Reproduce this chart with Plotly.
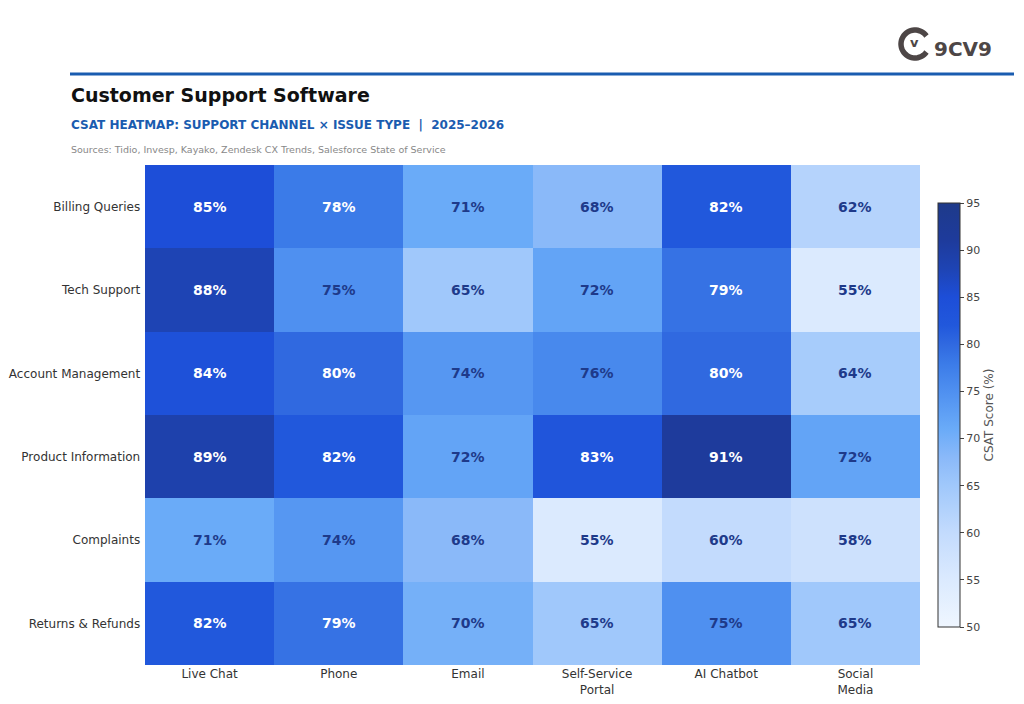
import math
import plotly.graph_objects as go

channels = ["Live Chat", "Phone", "Email", "Self-Service<br>Portal", "AI Chatbot", "Social<br>Media"]
issues = ["Billing Queries", "Tech Support", "Account Management", "Product Information", "Complaints", "Returns & Refunds"]
billing = [85, 78, 71, 68, 82, 62]
tech = [88, 75, 65, 72, 79, 55]
account = [84, 80, 74, 76, 80, 64]
product = [89, 82, 72, 83, 91, 72]
complaints = [71, 74, 68, 55, 60, 58]
returns = [82, 79, 70, 65, 75, 65]
z = [billing, tech, account, product, complaints, returns]
cb_ticks = [50, 55, 60, 65, 70, 75, 80, 85, 90, 95]

zmin, zmax = 50, 95
stops = [(50, "#eff6ff"), (55, "#dbeafe"), (60, "#c3dbfd"), (65, "#a0c8fb"), (68, "#8ab9f9"),
         (71, "#6aabf8"), (75, "#4f90f0"), (78, "#3b7be8"), (80, "#3069e0"), (82, "#2158dc"),
         (85, "#1d4ed8"), (88, "#1e44b4"), (91, "#1e3b9c"), (95, "#1e3a8a")]
colorscale = [[(v - zmin) / (zmax - zmin), c] for v, c in stops]

FONT = "DejaVu Sans"
L, R, T, B = 145, 104, 165, 39
PW, PH = 1024 - L - R, 704 - T - B

def px(x):
    return (x - L) / PW

def py(y):
    return 1 - (y - T) / PH

fig = go.Figure()
fig.add_trace(go.Heatmap(
    z=z, x=channels, y=issues, zmin=zmin, zmax=zmax, colorscale=colorscale,
    hoverinfo="skip",
    colorbar=dict(
        x=px(938), xanchor="left", xpad=0, y=py(415), yanchor="middle", ypad=0,
        lenmode="pixels", len=424, thickness=22, thicknessmode="pixels",
        outlinecolor="#333333", outlinewidth=1,
        tickvals=cb_ticks, ticks="outside", ticklen=4, tickcolor="#444",
        tickfont=dict(family=FONT, size=11, color="#444"),
        title=dict(text="CSAT Score (%)", side="right", font=dict(family=FONT, size=12, color="#555")),
    ),
))

for i, row in enumerate(z):
    for j, v in enumerate(row):
        fig.add_annotation(x=channels[j], y=issues[i], text=f"<b>{v}%</b>", showarrow=False,
                           font=dict(family=FONT, size=14, color="#ffffff" if v >= 77 else "#1e3a8a"))

fig.update_xaxes(showgrid=False, zeroline=False, showline=False, ticks="", automargin=False,
                 tickfont=dict(family=FONT, size=12, color="#333"))
fig.update_yaxes(autorange="reversed", showgrid=False, zeroline=False, showline=False, ticks="",
                 automargin=False, tickfont=dict(family=FONT, size=12, color="#333"), ticksuffix=" ")

# header
fig.add_shape(type="line", xref="paper", yref="paper", x0=px(70), x1=px(1014),
              y0=py(74), y1=py(74), line=dict(color="#1a5cb0", width=3))
fig.add_annotation(xref="paper", yref="paper", x=px(69), y=py(95), xanchor="left", yanchor="middle",
                   text="<b>Customer Support Software</b>", showarrow=False,
                   font=dict(family=FONT, size=19, color="#111111"))
fig.add_annotation(xref="paper", yref="paper", x=px(69), y=py(125), xanchor="left", yanchor="middle",
                   text="<b>CSAT HEATMAP: SUPPORT CHANNEL × ISSUE TYPE  |  2025–2026</b>", showarrow=False,
                   font=dict(family=FONT, size=12, color="#1a5cb0"))
fig.add_annotation(xref="paper", yref="paper", x=px(69), y=py(149), xanchor="left", yanchor="middle",
                   text="Sources: Tidio, Invesp, Kayako, Zendesk CX Trends, Salesforce State of Service", showarrow=False,
                   font=dict(family=FONT, size=9.5, color="#888888"))

# logo: open ring + letters
cx, cy, rr = 915, 44, 14
pts = []
for k in range(0, 41):
    a = math.radians(-35 - k * (290 / 40))
    pts.append((cx + rr * math.cos(a), cy - rr * math.sin(a)))
path = "M " + " L ".join(f"{px(x):.5f},{py(y):.5f}" for x, y in pts)
fig.add_shape(type="path", xref="paper", yref="paper", path=path,
              line=dict(color="#4d4646", width=5.5))
fig.add_annotation(xref="paper", yref="paper", x=px(cx - 1), y=py(42), xanchor="center", yanchor="middle",
                   text="<b>v</b>", showarrow=False,
                   font=dict(family=FONT, size=13, color="#4d4646"))
fig.add_annotation(xref="paper", yref="paper", x=px(932), y=py(49), xanchor="left",
                   yanchor="middle", text="<b>9CV9</b>", showarrow=False,
                   font=dict(family=FONT, size=20, color="#4d4646"))

fig.update_layout(
    width=1024, height=704, margin=dict(l=L, r=R, t=T, b=B, autoexpand=False),
    paper_bgcolor="white", plot_bgcolor="white", showlegend=False,
    font=dict(family=FONT),
)
fig.write_html("out.html")
